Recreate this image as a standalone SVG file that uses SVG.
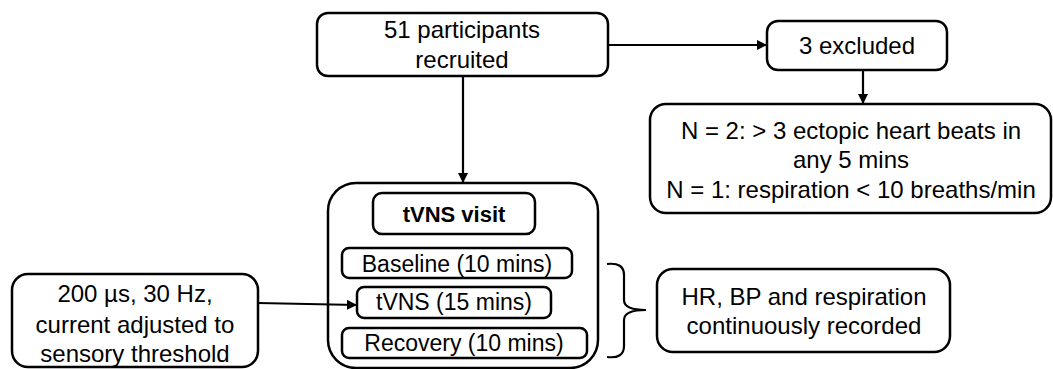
<svg xmlns="http://www.w3.org/2000/svg" width="1053" height="369" viewBox="0 0 1053 369">
<style>
.b{fill:#fff;stroke:#000;stroke-width:2.5}
.t{font-family:"Liberation Sans",Arial,sans-serif;font-size:24px;fill:#000;text-anchor:middle}
.s{font-size:23px}
.bd{font-weight:bold;font-size:22px}
.c{fill:none;stroke:#000;stroke-width:2.2}
</style>
<defs>
<marker id="ah" viewBox="0 0 10 10" refX="10" refY="5" markerWidth="4.6" markerHeight="4.6" orient="auto" markerUnits="strokeWidth">
<path d="M0,0 L10,5 L0,10 z" fill="#000"/>
</marker>
</defs>
<g id="recruited">
<rect class="b" x="317" y="13" width="291" height="63" rx="11"/>
<text class="t" x="462" y="38">51 participants</text>
<text class="t" x="462" y="68">recruited</text>
</g>
<g id="excluded">
<rect class="b" x="767" y="21" width="180" height="49" rx="11"/>
<text class="t" x="857" y="54">3 excluded</text>
</g>
<g id="reasons">
<rect class="b" x="650" y="104" width="401" height="109" rx="16"/>
<text class="t" x="851" y="139">N = 2: &gt; 3 ectopic heart beats in</text>
<text class="t" x="851" y="168">any 5 mins</text>
<text class="t" x="851" y="198">N = 1: respiration &lt; 10 breaths/min</text>
</g>
<g id="visit">
<rect class="b" x="328" y="183" width="270" height="185" rx="28"/>
<g id="visit-title">
<rect class="b" x="373" y="193" width="162" height="41" rx="9"/>
<text class="t bd" x="454" y="222">tVNS visit</text>
</g>
<g id="baseline">
<rect class="b" x="342" y="248" width="230" height="30" rx="7"/>
<text class="t s" x="457" y="272">Baseline (10 mins)</text>
</g>
<g id="tvns">
<rect class="b" x="357" y="287" width="194" height="31" rx="7"/>
<text class="t s" x="454" y="310">tVNS (15 mins)</text>
</g>
<g id="recovery">
<rect class="b" x="342" y="328" width="245" height="30" rx="7"/>
<text class="t s" x="464" y="351">Recovery (10 mins)</text>
</g>
</g>
<g id="stimulus">
<rect class="b" x="12" y="274" width="246" height="93" rx="16"/>
<text class="t" x="135" y="302">200 µs, 30 Hz,</text>
<text class="t" x="135" y="333">current adjusted to</text>
<text class="t" x="135" y="362">sensory threshold</text>
</g>
<g id="recorded">
<rect class="b" x="657" y="269" width="293" height="83" rx="16"/>
<text class="t" x="804" y="305">HR, BP and respiration</text>
<text class="t" x="804" y="334">continuously recorded</text>
</g>
<g id="connectors">
<path class="c" d="M608,45 L767,45" marker-end="url(#ah)"/>
<path class="c" d="M863,70 L863,104" marker-end="url(#ah)"/>
<path class="c" d="M463,76 L463,183" marker-end="url(#ah)"/>
<path class="c" d="M258,303 L357,305" marker-end="url(#ah)"/>
<path class="c" d="M607,264 Q624,262 624,275 L624,300 Q624,310 646,310 Q624,310 624,320 L624,346 Q624,359 607,357"/>
</g>
</svg>
